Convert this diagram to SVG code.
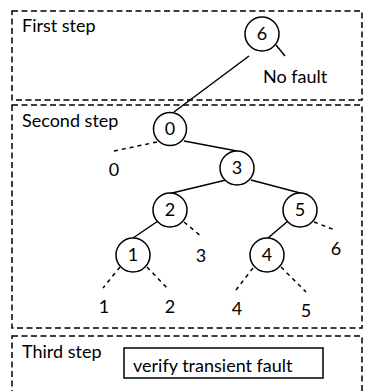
<svg xmlns="http://www.w3.org/2000/svg" width="365" height="391" viewBox="0 0 365 391">
  <style>
    .step { fill: none; stroke: #000; stroke-width: 1.5; stroke-dasharray: 6 3.5; }
    .node circle { fill: #fff; stroke: #000; stroke-width: 1.5; }
    .edge { stroke: #000; stroke-width: 1.5; fill: none; }
    .dash { stroke: #000; stroke-width: 1.5; fill: none; stroke-dasharray: 4 4; }
    text { font-family: Lato, "Liberation Sans", Arial, sans-serif; font-size: 18px; fill: #000; }
    .c { text-anchor: middle; }
  </style>
  <rect width="365" height="391" fill="#fff"/>

  <!-- step frames -->
  <g id="frames">
    <rect class="step" x="12" y="11" width="350" height="89"/>
    <rect class="step" x="12" y="105" width="350" height="223"/>
    <rect class="step" x="12" y="336" width="350" height="60"/>
    <text x="22" y="32">First step</text>
    <text x="22" y="127">Second step</text>
    <text x="22" y="358">Third step</text>
  </g>

  <!-- connectors -->
  <g id="connectors">
    <line class="edge" x1="249" y1="56" x2="174" y2="112"/>
    <line class="edge" x1="276" y1="45" x2="285" y2="56"/>
    <line class="dash" x1="157" y1="142" x2="114" y2="151"/>
    <line class="edge" x1="184" y1="141" x2="237" y2="151"/>
    <line class="edge" x1="226" y1="180" x2="168" y2="194"/>
    <line class="edge" x1="251" y1="180" x2="304" y2="194"/>
    <line class="edge" x1="158" y1="221" x2="133" y2="238"/>
    <line class="dash" x1="184" y1="222" x2="202" y2="237"/>
    <line class="edge" x1="288" y1="221" x2="268" y2="238"/>
    <line class="dash" x1="314" y1="222" x2="335" y2="230"/>
    <line class="dash" x1="120" y1="267" x2="103" y2="288"/>
    <line class="dash" x1="147" y1="267" x2="167" y2="288"/>
    <line class="dash" x1="253" y1="268" x2="236" y2="290"/>
    <line class="dash" x1="281" y1="267" x2="306" y2="292"/>
  </g>

  <!-- tree nodes -->
  <g id="node6" class="node"><circle cx="262" cy="34" r="17"/><text class="c" x="262" y="40">6</text></g>
  <g id="node0" class="node"><circle cx="170" cy="129" r="16.5"/><text class="c" x="170" y="135">0</text></g>
  <g id="node3" class="node"><circle cx="237" cy="168" r="17"/><text class="c" x="237" y="174">3</text></g>
  <g id="node2" class="node"><circle cx="170" cy="210" r="17"/><text class="c" x="170" y="216">2</text></g>
  <g id="node5" class="node"><circle cx="300" cy="210" r="17"/><text class="c" x="300" y="216">5</text></g>
  <g id="node1" class="node"><circle cx="133" cy="255" r="17"/><text class="c" x="133" y="261">1</text></g>
  <g id="node4" class="node"><circle cx="267" cy="255" r="17"/><text class="c" x="267" y="261">4</text></g>

  <!-- leaf outcomes -->
  <g id="leaves">
    <text x="263" y="83">No fault</text>
    <text class="c" x="114" y="176">0</text>
    <text class="c" x="201" y="262">3</text>
    <text class="c" x="336" y="255">6</text>
    <text class="c" x="104" y="313">1</text>
    <text class="c" x="170" y="313">2</text>
    <text class="c" x="237" y="315">4</text>
    <text class="c" x="306" y="317">5</text>
  </g>

  <!-- third step action -->
  <g id="verify">
    <rect x="124" y="348" width="199" height="30" fill="#fff" stroke="#000" stroke-width="1.5"/>
    <text x="133" y="372">verify transient fault</text>
  </g>
</svg>
